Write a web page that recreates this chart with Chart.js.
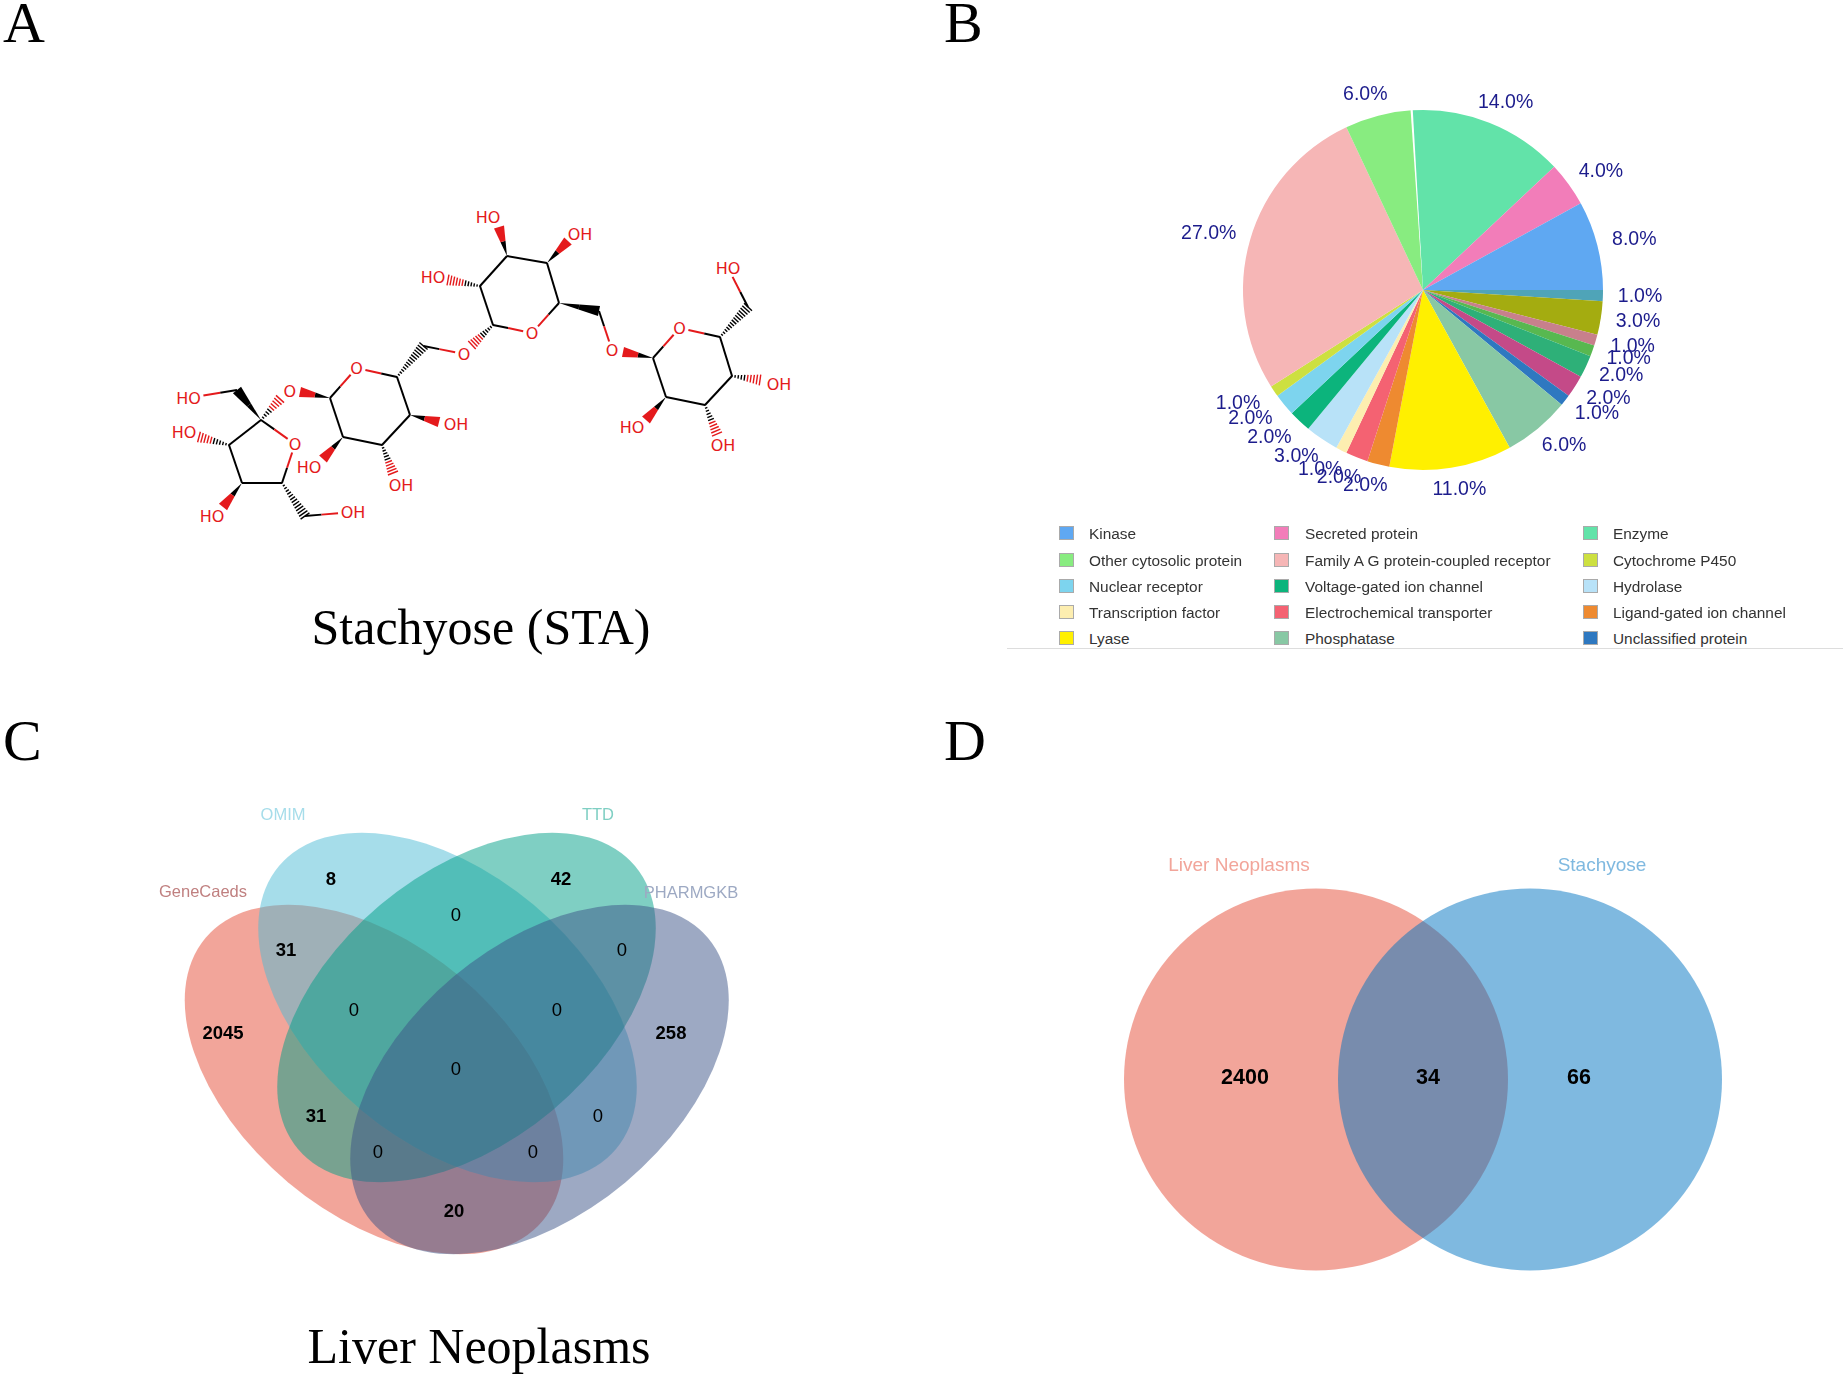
<!DOCTYPE html>
<html lang="en">
<head>
  <meta charset="UTF-8">
  <title>Stachyose and liver neoplasms</title>
  <script src="https://cdn.jsdelivr.net/npm/chart.js"></script>
  <style>
    html, body { margin: 0; padding: 0; background: #fff; }
    body { position: relative; width: 1843px; height: 1375px; overflow: hidden; font-family: 'Liberation Sans', Arial, sans-serif; }
    canvas, svg, .abs { position: absolute; }
    .letter, .caption { font-family: 'Liberation Serif', 'Times New Roman', serif; color: #000; white-space: nowrap; line-height: 1; }
    .letter { font-size: 58px; }
    .caption { font-size: 50px; transform: translateX(-50%); }
    .lg-box { width: 15px; height: 14px; border: 1px solid #aaa; box-sizing: border-box; }
    .lg-text { font-size: 15.4px; color: #333; white-space: nowrap; line-height: 18px; }
    #rule { left: 1007px; top: 648px; width: 836px; height: 1px; background: #ddd; }
  </style>
</head>
<body>
  <div class="abs letter" style="left:3px;top:-6px">A</div>
  <div class="abs letter" style="left:944px;top:-6px">B</div>
  <div class="abs letter" style="left:3px;top:712px">C</div>
  <div class="abs letter" style="left:944px;top:712px">D</div>
  <div class="abs caption" style="left:481px;top:602px">Stachyose (STA)</div>
  <div class="abs caption" style="left:479px;top:1321px">Liver Neoplasms</div>

  <svg id="mol" width="1843" height="680" style="left:-2px;top:0"></svg>

  <canvas id="pie" width="560" height="560" style="left:1143px;top:10px"></canvas>
  <div id="legend"></div>
  <div class="abs" id="rule"></div>

  <canvas id="vennC" width="620" height="500" style="left:150px;top:780px"></canvas>
  <canvas id="vennD" width="640" height="470" style="left:1100px;top:830px"></canvas>

  <script>
    // panel B
    const pieLabels = ['Kinase', 'Secreted protein', 'Enzyme', 'Other cytosolic protein', 'Family A G protein-coupled receptor',
      'Cytochrome P450', 'Nuclear receptor', 'Voltage-gated ion channel', 'Hydrolase', 'Transcription factor',
      'Electrochemical transporter', 'Ligand-gated ion channel', 'Lyase', 'Phosphatase', 'Unclassified protein',
      '', '', '', '', '', ''];
    const pieValues = [8, 4, 14, 6, 27, 1, 2, 2, 3, 1, 2, 2, 11, 6, 1, 2, 2, 1, 1, 3, 1];
    const pieColors = ['#5fa8f2', '#f27db9', '#62e3a9', '#88ec80', '#f6b6b6', '#cde040', '#7dd4ee', '#0cb47c', '#b8e2f8', '#fdeeb0',
      '#f46272', '#ee8a30', '#fff000', '#88c8a4', '#2e78c0', '#c44a88', '#2eb078', '#58b850', '#c8808c', '#a4ac10', '#4fa4b8'];

    // panel C
    const setsC = ['GeneCaeds', 'OMIM', 'TTD', 'PHARMGKB'];
    const countsC = [8, 42, 31, 0, 0, 0, 0, 2045, 258, 0, 31, 0, 0, 0, 20];

    // panel D
    const setsD = ['Liver Neoplasms', 'Stachyose'];
    const countsD = [2400, 34, 66];

    // where things sit, in page pixels
    const setPosC = [[203, 892], [283, 815], [598, 815], [691, 893]];
    const countPosC = [[331, 880], [561, 880], [286, 951], [456, 916], [622, 951], [354, 1011], [557, 1011],
      [223, 1034], [671, 1034], [456, 1070], [316, 1117], [598, 1117], [378, 1153], [533, 1153], [454, 1212]];
    const ellipsesC = [
      { x: 374, y: 1079.5, a: 220, b: 134, rot: 40, color: 'rgba(230,75,53,.5)' },
      { x: 447.5, y: 1007.5, a: 220, b: 134, rot: 40, color: 'rgba(77,187,213,.5)' },
      { x: 466.5, y: 1007.5, a: 220, b: 134, rot: -40, color: 'rgba(0,160,135,.5)' },
      { x: 539.5, y: 1079.5, a: 220, b: 134, rot: -40, color: 'rgba(60,84,136,.5)' }
    ];
    const setPosD = [[1239, 866], [1602, 866]];
    const countPosD = [[1245, 1078], [1428, 1078], [1579, 1078]];
    const ellipsesD = [
      { x: 1316, y: 1079.5, a: 192, b: 191, rot: 0, color: 'rgba(230,75,53,.5)' },
      { x: 1530, y: 1079.5, a: 192, b: 191, rot: 0, color: 'rgba(0,115,194,.5)' }
    ];

    // percent labels on the pie, around a slightly flattened ring
    const pieLabelPlugin = {
      id: 'pieLabels',
      afterDatasetsDraw(chart) {
        const ctx = chart.ctx;
        const arcs = chart.getDatasetMeta(0).data;
        const vals = chart.data.datasets[0].data;
        ctx.save();
        // thin white sliver where Enzyme meets Other cytosolic protein, wider at the rim
        const seam = arcs[pieLabels.length - 1 - pieLabels.indexOf('Enzyme')].startAngle;
        const ex = arcs[0].x + 181 * Math.cos(seam), ey = arcs[0].y + 181 * Math.sin(seam);
        const hw = 1.1;
        ctx.fillStyle = '#fff';
        ctx.beginPath();
        ctx.moveTo(arcs[0].x, arcs[0].y);
        ctx.lineTo(ex - hw * Math.sin(seam), ey + hw * Math.cos(seam));
        ctx.lineTo(ex + hw * Math.sin(seam), ey - hw * Math.cos(seam));
        ctx.closePath();
        ctx.fill();
        ctx.font = '19.5px "Liberation Sans"';
        ctx.fillStyle = '#1c1c8c';
        ctx.textAlign = 'center';
        ctx.textBaseline = 'middle';
        arcs.forEach((arc, i) => {
          const mid = (arc.startAngle + arc.endAngle) / 2;
          const cos = Math.cos(mid), sin = Math.sin(mid);
          const shift = -3 + (cos > -0.1 ? 5 * Math.abs(sin) : 0);
          ctx.fillText(vals[i].toFixed(1) + '%', arc.x + shift + 220 * cos, arc.y + 202 * sin);
        });
        ctx.restore();
      }
    };

    new Chart(document.getElementById('pie'), {
      type: 'pie',
      data: {
        labels: [...pieLabels].reverse(),
        datasets: [{ data: [...pieValues].reverse(), backgroundColor: [...pieColors].reverse(), borderWidth: 0 }]
      },
      options: {
        responsive: false,
        animation: false,
        rotation: 90,
        radius: 180,
        plugins: { legend: { display: false }, tooltip: { enabled: false } }
      },
      plugins: [pieLabelPlugin]
    });

    // the legend sits on three fixed columns
    const legendCols = [[1059, 1089], [1274, 1305], [1583, 1613]];
    const legendRows = [534, 561, 587, 613, 639];
    const legend = document.getElementById('legend');
    pieLabels.filter(s => s).forEach((name, i) => {
      const col = legendCols[i % 3], y = legendRows[Math.floor(i / 3)];
      const box = document.createElement('div');
      box.className = 'abs lg-box';
      box.style.cssText = `left:${col[0]}px;top:${y - 8}px;background:${pieColors[i]}`;
      const txt = document.createElement('div');
      txt.className = 'abs lg-text';
      txt.style.cssText = `left:${col[1]}px;top:${y - 9}px`;
      txt.textContent = name;
      legend.append(box, txt);
    });

    // ellipses under the marks, numbers and set names on top
    function vennPlugin(ellipses) {
      return {
        id: 'venn',
        beforeDatasetsDraw(chart) {
          const { ctx, scales: { x, y } } = chart;
          ctx.save();
          ellipses.forEach(e => {
            const k = x.getPixelForValue(1) - x.getPixelForValue(0);
            ctx.beginPath();
            ctx.ellipse(x.getPixelForValue(e.x), y.getPixelForValue(e.y), e.a * k, e.b * k, e.rot * Math.PI / 180, 0, 2 * Math.PI);
            ctx.fillStyle = e.color;
            ctx.fill();
          });
          ctx.restore();
        },
        afterDatasetsDraw(chart) {
          const ctx = chart.ctx;
          ctx.save();
          ctx.textAlign = 'center';
          ctx.textBaseline = 'middle';
          chart.data.datasets.forEach((ds, d) => {
            chart.getDatasetMeta(d).data.forEach((pt, i) => {
              ctx.font = ds.fontFor(i);
              ctx.fillStyle = ds.colorFor(i);
              ctx.fillText(ds.texts[i], pt.x, pt.y);
            });
          });
          ctx.restore();
        }
      };
    }

    function drawVenn(id, box, sets, setPos, setColors, setFont, counts, countPos, countFont, ellipses) {
      const xy = p => ({ x: p[0], y: p[1] });
      new Chart(document.getElementById(id), {
        type: 'scatter',
        data: {
          datasets: [
            { data: setPos.map(xy), texts: sets, pointRadius: 0, fontFor: () => setFont, colorFor: i => setColors[i] },
            { data: countPos.map(xy), texts: counts.map(String), pointRadius: 0, fontFor: i => countFont(counts[i]), colorFor: () => '#000' }
          ]
        },
        options: {
          responsive: false,
          animation: false,
          layout: { padding: 0 },
          scales: {
            x: { display: false, min: box[0], max: box[2] },
            y: { display: false, min: box[1], max: box[3], reverse: true }
          },
          plugins: { legend: { display: false }, tooltip: { enabled: false } }
        },
        plugins: [vennPlugin(ellipses)]
      });
    }

    drawVenn('vennC', [150, 780, 770, 1280], setsC, setPosC, ['#c08080', '#a6ddea', '#7fcfc3', '#9da9c3'], '16.5px "Liberation Sans"',
      countsC, countPosC, v => (v > 0 ? 'bold ' : '') + '18.5px "Liberation Sans"', ellipsesC);
    drawVenn('vennD', [1100, 830, 1740, 1300], setsD, setPosD, ['#f2a59a', '#7fb9e0'], '19px "Liberation Sans"',
      countsD, countPosD, () => 'bold 21.5px "Liberation Sans"', ellipsesD);

    // panel A, the structure
    const RED = '#e41a1c';
    const svg = document.getElementById('mol');
    function add(tag, attrs, text) {
      const el = document.createElementNS('http://www.w3.org/2000/svg', tag);
      for (const k in attrs) el.setAttribute(k, attrs[k]);
      if (text) el.textContent = text;
      svg.appendChild(el);
    }
    const seg = (p, q, color) => add('line', { x1: p[0], y1: p[1], x2: q[0], y2: q[1], stroke: color, 'stroke-width': 2 });
    const lerp = (p, q, t) => [p[0] + (q[0] - p[0]) * t, p[1] + (q[1] - p[1]) * t];

    function bond(p, q) { seg(p, q, '#000'); }
    // carbon to oxygen: black half, red half, stopping short of the letter
    function hetero(p, q, gap) {
      const len = Math.hypot(q[0] - p[0], q[1] - p[1]);
      const end = lerp(p, q, 1 - (gap || 9) / len);
      const mid = lerp(p, end, 0.5);
      seg(p, mid, '#000');
      seg(mid, end, RED);
    }
    function wedge(p, q, red) {
      const len = Math.hypot(q[0] - p[0], q[1] - p[1]);
      const nx = -(q[1] - p[1]) / len, ny = (q[0] - p[0]) / len, w = 5.2;
      const m = lerp(p, q, 0.5);
      const poly = (pts, fill) => add('polygon', { points: pts.map(a => a.join(',')).join(' '), fill });
      poly([p, [m[0] + nx * w / 2, m[1] + ny * w / 2], [m[0] - nx * w / 2, m[1] - ny * w / 2]], '#000');
      poly([[m[0] + nx * w / 2, m[1] + ny * w / 2], [q[0] + nx * w, q[1] + ny * w], [q[0] - nx * w, q[1] - ny * w], [m[0] - nx * w / 2, m[1] - ny * w / 2]], red ? RED : '#000');
    }
    function hash(p, q, red) {
      const len = Math.hypot(q[0] - p[0], q[1] - p[1]);
      const nx = -(q[1] - p[1]) / len, ny = (q[0] - p[0]) / len;
      const n = Math.round(len / 3);
      for (let i = 0; i <= n; i++) {
        const t = i / n, c = lerp(p, q, t), w = 0.8 + 4.6 * t;
        add('line', { x1: c[0] + nx * w, y1: c[1] + ny * w, x2: c[0] - nx * w, y2: c[1] - ny * w, stroke: red && t > 0.5 ? RED : '#000', 'stroke-width': 1.4 });
      }
    }

    const a = [509, 256], b = [549, 263], c = [561, 303], o3 = [534, 333], d = [495, 325], e = [482, 286];
    [[a, b], [b, c], [d, e], [e, a]].forEach(s => bond(...s));
    hetero(c, o3); hetero(d, o3);
    wedge(a, [501, 227], true); wedge(b, [570, 241], true); hash(e, [450, 280], true);
    const m = [601, 311], oR = [614, 350];
    wedge(c, m, false); hetero(m, oR);
    const oL = [466, 354], n = [425.5, 346];
    hash(d, [474, 345], true); hetero(n, oL);

    const r = [399, 377], o2 = [358.6, 368], s = [332, 398], t = [345, 437], u = [384, 445], v = [412, 415];
    [[s, t], [t, u], [u, v], [v, r]].forEach(p => bond(...p));
    hetero(r, o2); hetero(s, o2);
    hash(r, n, false);
    wedge(s, [302, 392], true); wedge(v, [441, 422], true); wedge(t, [325, 459], true); hash(u, [395, 473], true);

    const f = [263, 420], of = [297, 444], g = [284, 483], h = [244, 483], i2 = [231, 445], k = [239, 390], g2 = [307, 516];
    [[g, h], [h, i2], [i2, f]].forEach(p => bond(...p));
    hetero(f, of); hetero(g, of);
    wedge(f, k, false); hetero(k, [190.6, 398], 15);
    hash(f, [282, 399], true); hash(i2, [201, 437], true); wedge(h, [225, 507], true);
    hash(g, g2, false); hetero(g2, [355, 512], 15);

    const o4 = [681.6, 328], w = [655, 358], x4 = [668, 397], y4 = [707, 405], z = [734, 376], q4 = [722, 337], ch = [750, 307];
    [[w, x4], [x4, y4], [y4, z], [z, q4]].forEach(p => bond(...p));
    hetero(q4, o4); hetero(w, o4);
    wedge(w, [625, 352], true); wedge(x4, [648, 420], true);
    hash(q4, ch, false); hetero(ch, [730, 268], 10);
    hash(z, [762, 380], true); hash(y4, [719, 434], true);

    const atomLabels = [
      ['HO', 490, 217], ['OH', 582, 234], ['HO', 435, 277], ['O', 534, 333], ['O', 614, 350], ['O', 466, 354],
      ['O', 358.6, 368], ['O', 291.7, 391], ['OH', 458, 424], ['OH', 403, 485], ['HO', 311, 467],
      ['HO', 190.6, 398], ['HO', 186, 432], ['O', 297, 444], ['HO', 214, 516], ['OH', 355, 512],
      ['O', 681.6, 328], ['HO', 730, 268], ['OH', 781, 384], ['OH', 725, 445], ['HO', 634, 427]
    ];
    atomLabels.forEach(([txt, lx, ly]) => add('text', {
      x: lx, y: ly, fill: RED, 'font-family': 'DejaVu Sans', 'font-size': 16, 'text-anchor': 'middle', 'dominant-baseline': 'central'
    }, txt));
  </script>
</body>
</html>
